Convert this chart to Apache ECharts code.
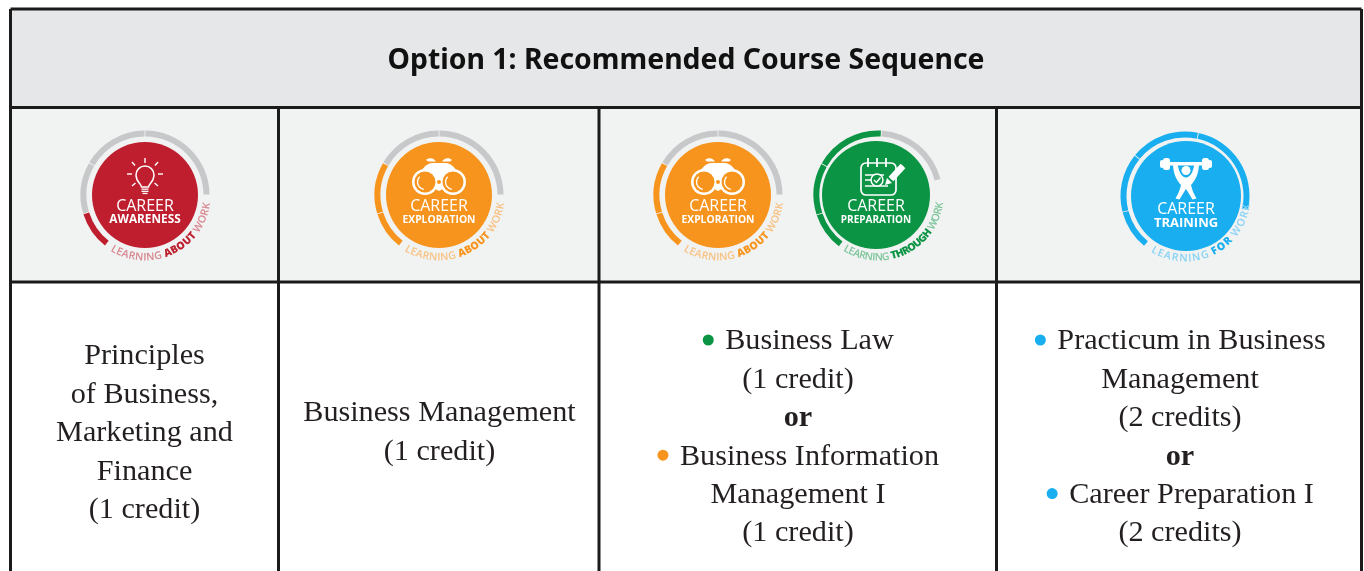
<!DOCTYPE html>
<html>
<head>
<meta charset="utf-8">
<title>Option 1: Recommended Course Sequence</title>
<script src="https://cdn.jsdelivr.net/npm/echarts@6/dist/echarts.min.js"></script>
<style>
html, body { margin: 0; padding: 0; background: #fff; overflow: hidden; }
#chart { width: 1364px; height: 571px; }
</style>
</head>
<body>
<div id="chart"></div>
<script>
// table text
const tableTitle = 'Option 1: Recommended Course Sequence'
const col1Lines = ['Principles', 'of Business,', 'Marketing and', 'Finance', '(1 credit)']
const col2Lines = ['Business Management', '(1 credit)']
const col3Lines = ['Business Law', '(1 credit)', 'or', 'Business Information', 'Management I', '(1 credit)']
const col4Lines = ['Practicum in Business', 'Management', '(2 credits)', 'or', 'Career Preparation I', '(2 credits)']
const col3Bullets = ['preparation', '', '', 'exploration', '', '']
const col4Bullets = ['training', '', '', '', 'training', '']

// ring segments in degrees, going counter clockwise. last one is the open part
const awarenessRing = [90, 60, 47, 35, 128]
const explorationRing = [90, 60, 47, 35, 128]
const preparationRing = [73, 64, 47, 35, 141]
const trainingRing = [90, 63, 53.5, 36.5, 117]
// how many segments are grey, the rest take the badge colour
const awarenessGrey = 3
const explorationGrey = 2
const preparationGrey = 1
const trainingGrey = 0

const GREY = '#c7c8ca'
const LINE = '#1b1b1b'
const SERIF = '"Liberation Serif", serif'
const SANS = '"Open Sans", "Noto Sans", sans-serif'
const colors = {
  awareness: '#be1e2d',
  exploration: '#f7941d',
  preparation: '#0b9444',
  training: '#19aeef'
}
const tints = {
  awareness: '#d98790',
  exploration: '#f8c283',
  preparation: '#7fc69c',
  training: '#86d3f6'
}

const badges = [
  { key: 'awareness', x: 145, discX: 145, y: 195, r: 53, ring: awarenessRing, grey: awarenessGrey, start: 0, line2: 'AWARENESS', size2: 11.8, words: ['LEARNING ', 'ABOUT', ' WORK'], dy: 0 },
  { key: 'exploration', x: 439, discX: 439, y: 195, r: 53, ring: explorationRing, grey: explorationGrey, start: 0, line2: 'EXPLORATION', size2: 10.3, words: ['LEARNING ', 'ABOUT', ' WORK'], dy: 0 },
  { key: 'exploration', x: 718, discX: 718, y: 195, r: 53, ring: explorationRing, grey: explorationGrey, start: 0, line2: 'EXPLORATION', size2: 10.3, words: ['LEARNING ', 'ABOUT', ' WORK'], dy: 0 },
  { key: 'preparation', x: 878, discX: 876, y: 195, r: 54, ring: preparationRing, grey: preparationGrey, start: 14, line2: 'PREPARATION', size2: 10, words: ['LEARNING ', 'THROUGH', ' WORK'], dy: 0 },
  { key: 'training', x: 1185, discX: 1186, y: 196, r: 55, ring: trainingRing, grey: trainingGrey, start: -12, line2: 'TRAINING', size2: 13, words: ['LEARNING ', 'FOR', ' WORK'], dy: 2 }
]

const colX = [10.5, 278.5, 599, 996.5, 1361.5]
const rowY = [9, 107.5, 282, 571]
const measureCtx = document.createElement('canvas').getContext('2d')

// icon outlines, the graphic component only knows them once registered
echarts.graphic.registerShape('bulbGlass', echarts.graphic.extendPath('M-3.5,-8 C-3.5,-11 -9,-13 -9,-20 C-9,-25 -5,-29 0,-29 C5,-29 9,-25 9,-20 C9,-13 3.5,-11 3.5,-8 Z'))
echarts.graphic.registerShape('binoBody', echarts.graphic.extendPath('M-21,-15 C-19,-24 -14,-32 -6,-32 L6,-32 C14,-32 19,-24 21,-15 L0,-4 Z'))
echarts.graphic.registerShape('binoBrowL', echarts.graphic.extendPath('M-13,-35 C-10,-38 -5,-37 -3,-33.5 L-11,-33.5 Z'))
echarts.graphic.registerShape('binoBrowR', echarts.graphic.extendPath('M13,-35 C10,-38 5,-37 3,-33.5 L11,-33.5 Z'))
echarts.graphic.registerShape('lifterBody', echarts.graphic.extendPath('M-13,-33 L-8.5,-33 C-7.5,-24 -4,-18.5 0,-18.5 C4,-18.5 7.5,-24 8.5,-33 L13,-33 C13,-21 8.5,-15 5,-11 C6,-6 8,-2 10.5,2.5 L6.5,3.5 C4,-1 2,-4 0,-7 C-2,-4 -4,-1 -6.5,3.5 L-10.5,2.5 C-8,-2 -6,-6 -5,-11 C-8.5,-15 -13,-21 -13,-33 Z'))

function textWidth (str, font) {
  measureCtx.font = font
  return measureCtx.measureText(str).width
}

function tableElements () {
  const els = []
  els.push({ type: 'rect', z: 1, shape: { x: colX[0], y: rowY[0], width: colX[4] - colX[0], height: rowY[1] - rowY[0] }, style: { fill: '#e6e7e8' } })
  els.push({ type: 'rect', z: 1, shape: { x: colX[0], y: rowY[1], width: colX[4] - colX[0], height: rowY[2] - rowY[1] }, style: { fill: '#f1f2f2' } })
  rowY.slice(0, 3).forEach(y => {
    els.push({ type: 'line', z: 20, shape: { x1: colX[0], y1: y, x2: colX[4], y2: y }, style: { stroke: LINE, lineWidth: 3 } })
  })
  colX.forEach((x, i) => {
    const top = (i === 0 || i === 4) ? rowY[0] : rowY[1]
    els.push({ type: 'line', z: 20, shape: { x1: x, y1: top, x2: x, y2: rowY[3] }, style: { stroke: LINE, lineWidth: 3 } })
  })
  els.push({
    type: 'text', z: 20, x: (colX[0] + colX[4]) / 2, y: 61,
    style: { text: tableTitle, font: 'bold 28.4px "Noto Sans", sans-serif', fill: '#111', textAlign: 'center', textVerticalAlign: 'middle' }
  })
  return els
}

function cellElements (lines, bullets, cx, firstY) {
  const els = []
  const step = 38.4
  lines.forEach((txt, i) => {
    const y = firstY + i * step
    const font = (txt === 'or' ? 'bold ' : '') + '30.2px ' + SERIF
    const w = textWidth(txt, font)
    const bullet = bullets && bullets[i]
    const shift = bullet ? 11.5 : 0
    els.push({
      type: 'text', z: 20, x: cx + shift, y: y,
      style: { text: txt, font: font, fill: '#231f20', textAlign: 'center', textVerticalAlign: 'middle' }
    })
    if (bullet) {
      els.push({ type: 'circle', z: 20, shape: { cx: cx + shift - w / 2 - 17, cy: y - 1.5, r: 5.5 }, style: { fill: colors[bullet] } })
    }
  })
  return els
}

// letters laid out one by one round the lower right of the ring
function curvedText (b) {
  const els = []
  const font = '600 10.5px ' + SANS
  const fontBold = '800 10.5px ' + SANS
  let total = 0
  b.words.forEach((w, i) => {
    total += textWidth(w, i === 1 ? fontBold : font)
  })
  const radius = 62.5
  const startDeg = 122
  const endDeg = 7
  let pos = 0
  b.words.forEach((w, i) => {
    const f = i === 1 ? fontBold : font
    w.split('').forEach(ch => {
      const cw = textWidth(ch, f)
      const deg = startDeg - (startDeg - endDeg) * (pos + cw / 2) / total
      const rad = deg * Math.PI / 180
      els.push({
        type: 'text', z: 20,
        x: b.x + radius * Math.cos(rad),
        y: b.y + radius * Math.sin(rad),
        rotation: (90 - deg) * Math.PI / 180,
        style: {
          text: ch, font: f, fill: i === 1 ? colors[b.key] : tints[b.key],
          textAlign: 'center', textVerticalAlign: 'middle'
        }
      })
      pos += cw
    })
  })
  return els
}

function bulbIcon (fill) {
  const ray = (x1, y1, x2, y2) => ({ type: 'line', z: 20, shape: { x1, y1, x2, y2 }, style: { stroke: '#fff', lineWidth: 1.4 } })
  return [
    { type: 'bulbGlass', z: 20, style: { fill: 'none', stroke: '#fff', lineWidth: 1.5 } },
    { type: 'rect', z: 20, shape: { x: -3.5, y: -6.5, width: 7, height: 1.3 }, style: { fill: '#fff' } },
    { type: 'rect', z: 20, shape: { x: -3.5, y: -4.3, width: 7, height: 1.3 }, style: { fill: '#fff' } },
    { type: 'rect', z: 20, shape: { x: -2.5, y: -2.2, width: 5, height: 1.3 }, style: { fill: '#fff' } },
    ray(0, -37, 0, -32), ray(-13, -33, -10, -29.5), ray(13, -33, 10, -29.5),
    ray(-18, -21, -13, -21), ray(18, -21, 13, -21),
    ray(-13, -9, -9.5, -12), ray(13, -9, 9.5, -12)
  ]
}

function binocularsIcon (fill) {
  return [
    { type: 'binoBody', z: 20, style: { fill: '#fff' } },
    { type: 'binoBrowL', z: 20, style: { fill: '#fff' } },
    { type: 'binoBrowR', z: 20, style: { fill: '#fff' } },
    { type: 'circle', z: 20, shape: { cx: -14, cy: -13, r: 13 }, style: { fill: '#fff' } },
    { type: 'circle', z: 20, shape: { cx: 14, cy: -13, r: 13 }, style: { fill: '#fff' } },
    { type: 'circle', z: 20, shape: { cx: -14, cy: -13, r: 10.5 }, style: { fill: fill } },
    { type: 'circle', z: 20, shape: { cx: 14, cy: -13, r: 10.5 }, style: { fill: fill } },
    { type: 'arc', z: 20, shape: { cx: -14, cy: -13, r: 7.5, startAngle: Math.PI * 0.55, endAngle: Math.PI * 1.25, clockwise: true }, style: { stroke: '#fff', lineWidth: 1.4, fill: 'none' } },
    { type: 'arc', z: 20, shape: { cx: 14, cy: -13, r: 7.5, startAngle: Math.PI * 0.55, endAngle: Math.PI * 1.25, clockwise: true }, style: { stroke: '#fff', lineWidth: 1.4, fill: 'none' } },
    { type: 'circle', z: 20, shape: { cx: 0, cy: -13, r: 2 }, style: { fill: fill } }
  ]
}

function calendarIcon (fill) {
  const wline = (x1, y1, x2, y2, w) => ({ type: 'line', z: 20, shape: { x1, y1, x2, y2 }, style: { stroke: '#fff', lineWidth: w || 1.5 } })
  return [
    { type: 'rect', z: 20, shape: { x: -15, y: -32, width: 35, height: 32, r: 5 }, style: { fill: fill, stroke: '#fff', lineWidth: 1.7 } },
    wline(-8, -37, -8, -28, 1.8), wline(1, -37, 1, -28, 1.8), wline(10, -37, 10, -28, 1.8),
    wline(-11, -20, 8, -20), wline(-11, -15, -2, -15), wline(-11, -9, 12, -9),
    { type: 'circle', z: 20, shape: { cx: 1, cy: -15, r: 6 }, style: { fill: fill, stroke: '#fff', lineWidth: 1.5 } },
    { type: 'polyline', z: 20, shape: { points: [[-2, -15], [0.5, -12.5], [4.5, -17.5]] }, style: { fill: 'none', stroke: '#fff', lineWidth: 1.5 } },
    wline(15, -16, 27, -29, 6.5),
    wline(15, -16, 27, -29, 3.5),
    { type: 'polygon', z: 20, shape: { points: [[11, -17], [16, -12], [9, -10]] }, style: { fill: '#fff' } }
  ]
}

function lifterIcon (fill) {
  return [
    { type: 'rect', z: 20, shape: { x: -20, y: -34, width: 40, height: 3.5 }, style: { fill: '#fff' } },
    { type: 'rect', z: 20, shape: { x: -23, y: -38, width: 7, height: 12, r: 2.5 }, style: { fill: '#fff' } },
    { type: 'rect', z: 20, shape: { x: 16, y: -38, width: 7, height: 12, r: 2.5 }, style: { fill: '#fff' } },
    { type: 'rect', z: 20, shape: { x: -26, y: -36, width: 4, height: 8, r: 2 }, style: { fill: '#fff' } },
    { type: 'rect', z: 20, shape: { x: 22, y: -36, width: 4, height: 8, r: 2 }, style: { fill: '#fff' } },
    { type: 'circle', z: 20, shape: { cx: 0, cy: -25.5, r: 4.5 }, style: { fill: '#fff' } },
    { type: 'lifterBody', z: 20, style: { fill: '#fff' } }
  ]
}

const iconFns = {
  awareness: bulbIcon,
  exploration: binocularsIcon,
  preparation: calendarIcon,
  training: lifterIcon
}

function badgeElements (b) {
  const fill = colors[b.key]
  const icon = iconFns[b.key](fill)
  const els = [{ type: 'group', x: b.discX, y: b.y, z: 20, children: icon }]
  els.push({
    type: 'text', z: 20, x: b.discX, y: b.y + 11.5 + b.dy,
    style: { text: 'CAREER', font: '16px ' + SANS, fill: '#fff', textAlign: 'center', textVerticalAlign: 'middle' }
  })
  els.push({
    type: 'text', z: 20, x: b.discX, y: b.y + 25 + b.dy,
    style: { text: b.line2, font: 'bold ' + b.size2 + 'px ' + SANS, fill: '#fff', textAlign: 'center', textVerticalAlign: 'middle' }
  })
  return els.concat(curvedText(b))
}

function ringSeries (b) {
  const last = b.ring.length - 1
  return {
    type: 'pie',
    z: 5,
    silent: true,
    animation: false,
    center: [b.x, b.y],
    radius: [58.5, 64.5],
    startAngle: b.start,
    clockwise: false,
    padAngle: 0.8,
    label: { show: false },
    labelLine: { show: false },
    data: b.ring.map((v, i) => ({
      value: v,
      itemStyle: { color: i === last ? 'transparent' : (i < b.grey ? GREY : colors[b.key]) }
    }))
  }
}

function discSeries (b) {
  return {
    type: 'pie',
    z: 5,
    silent: true,
    animation: false,
    center: [b.discX, b.y],
    radius: [0, b.r],
    label: { show: false },
    labelLine: { show: false },
    data: [{ value: 1, itemStyle: { color: colors[b.key] } }]
  }
}

let elements = tableElements()
elements = elements.concat(
  cellElements(col1Lines, null, 144.5, 356.5),
  cellElements(col2Lines, null, 439.5, 413.5),
  cellElements(col3Lines, col3Bullets, 798, 341.5),
  cellElements(col4Lines, col4Bullets, 1180, 341.5)
)
badges.forEach(b => { elements = elements.concat(badgeElements(b)) })

const series = []
badges.forEach(b => {
  series.push(ringSeries(b))
  series.push(discSeries(b))
})

const myChart = echarts.init(document.getElementById('chart'), null, { renderer: 'canvas' })
myChart.setOption({
  backgroundColor: '#fff',
  animation: false,
  tooltip: { show: false },
  graphic: { elements: elements },
  series: series
})
</script>
</body>
</html>
